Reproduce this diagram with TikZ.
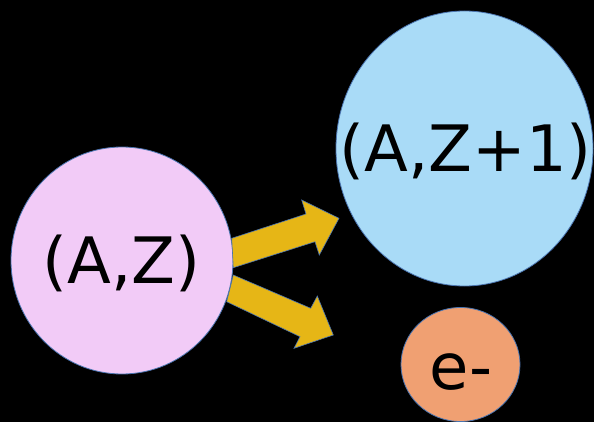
\documentclass[tikz,border=0pt]{standalone}
\usepackage{fontspec}
\setmainfont{DejaVu Sans}
\usetikzlibrary{shapes.geometric}
\definecolor{pinkfill}{HTML}{F2CBF7}
\definecolor{bluefill}{HTML}{A9DBF7}
\definecolor{orangefill}{HTML}{F0A072}
\definecolor{yellowfill}{HTML}{E6B616}
\definecolor{edgeblue}{HTML}{4A74B0}
\tikzset{
  particle/.style={ellipse, draw=edgeblue, line width=0.8pt, inner sep=0pt, font=\fontsize{64}{64}\selectfont},
  blockarrow/.style={fill=yellowfill, draw=edgeblue, line width=0.6pt, line join=miter}
}
\begin{document}
\begin{tikzpicture}[x=1pt,y=-1pt]
\fill[black] (0,0) rectangle (594,422);
\useasboundingbox (0,0) rectangle (594,422);
\node[particle, fill=pinkfill, minimum width=222pt, minimum height=227pt] (az) at (122,260.5) {};
\node[particle, fill=bluefill, minimum width=257pt, minimum height=275pt] (az1) at (464.5,148.5) {};
\node[particle, fill=orangefill, minimum width=119pt, minimum height=114pt] (e) at (460.5,364.5) {};
\node[font=\fontsize{64}{64}\selectfont, anchor=base] (taz) at (121.7,283.3) {(A,Z)};
\node[font=\fontsize{64}{64}\selectfont, anchor=base] (taz1) at (465.8,171.7) {(A,Z+1)};
\node[font=\fontsize{64}{64}\selectfont, anchor=base] (te) at (461,389) {e-};
\draw[blockarrow] (231.7,238.3) -- (306,214) -- (301.7,200) -- (339,218.3) -- (319.3,255) -- (315,241.7) -- (233.3,267.7) -- cycle;
\draw[blockarrow] (233.3,275) -- (310.7,308.3) -- (317.3,296) -- (333.3,335) -- (294,348.3) -- (300,336.7) -- (226.7,301.7) -- cycle;
\end{tikzpicture}
\end{document}
